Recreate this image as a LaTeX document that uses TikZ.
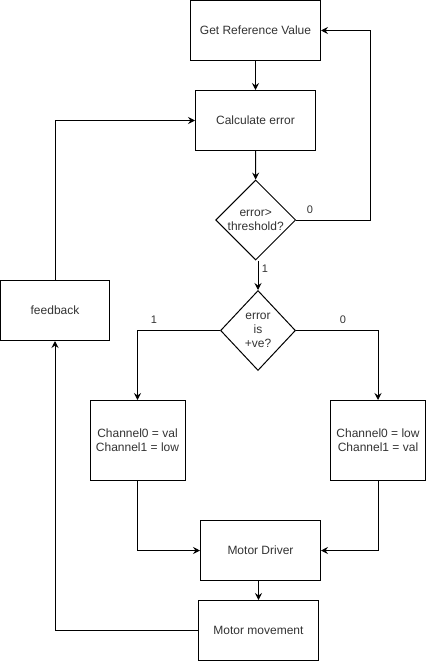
\documentclass[tikz,border=0pt]{standalone}
\usepackage{fontspec}
\setmainfont{Liberation Sans}
\usetikzlibrary{shapes.geometric,arrows.meta}
\definecolor{txt}{HTML}{333333}
\tikzset{
  box/.style={draw=black, line width=1pt, fill=white, inner sep=0pt, align=center, font=\fontsize{12}{14}\selectfont, text=txt},
  dia/.style={draw=black, line width=1pt, diamond, inner sep=0pt},
  dtext/.style={align=center, font=\fontsize{12}{14}\selectfont, text=txt, inner sep=0pt},
  lbl/.style={font=\fontsize{11}{13}\selectfont, text=txt, inner sep=0pt},
  conn/.style={draw=black, line width=1pt, -{Stealth[length=7pt,width=7pt,inset=2.5pt]}},
}
\begin{document}
\begin{tikzpicture}[x=1pt,y=-1pt]
\useasboundingbox (0,0) rectangle (426,661);
\node[box, minimum width=130, minimum height=60] (ref) at (255.5,30.5) {Get Reference Value};
\node[box, minimum width=120, minimum height=60] (calc) at (255.5,120.5) {Calculate error};
\node[dia, minimum width=80, minimum height=80] (d1) at (255.7,220) {};
\node[dtext] (d1t) at (255.7,220) {error>\\threshold?};
\node[dia, minimum width=75, minimum height=80] (d2) at (258,330.5) {};
\node[dtext] (d2t) at (258,330.5) {error\\is\\+ve?};
\node[box, minimum width=109, minimum height=60] (fb) at (55,310.5) {feedback};
\node[box, minimum width=95, minimum height=80] (lb) at (137.5,440.5) {Channel0 = val\\Channel1 = low};
\node[box, minimum width=95, minimum height=80] (rb) at (378,440.5) {Channel0 = low\\Channel1 = val};
\node[box, minimum width=120, minimum height=60] (md) at (260.5,550.5) {Motor Driver};
\node[box, minimum width=120, minimum height=60] (mm) at (258.5,630.5) {Motor movement};

\draw[conn] (ref) -- (calc);
\draw[conn] (calc) -- (d1);
\draw[conn] (d1.east) -- (370.5,220) |- (ref.east);
\draw[conn] (d2.north |- d1.south) -- (d2.north);
\draw[conn] (d2.west) -| (lb.north);
\draw[conn] (d2.east) -| (rb.north);
\draw[conn] (lb.south) |- (md.west);
\draw[conn] (rb.south) |- (md.east);
\draw[conn] (md.south -| mm.north) -- (mm.north);
\draw[conn] (mm.west) -| (fb.south);
\draw[conn] (fb.north) |- (calc.west);

\node[lbl] (l0a) at (310,210) {0};
\node[lbl] (l1a) at (265,269) {1};
\node[lbl] (l1b) at (154,320) {1};
\node[lbl] (l0b) at (343,320) {0};
\end{tikzpicture}
\end{document}
